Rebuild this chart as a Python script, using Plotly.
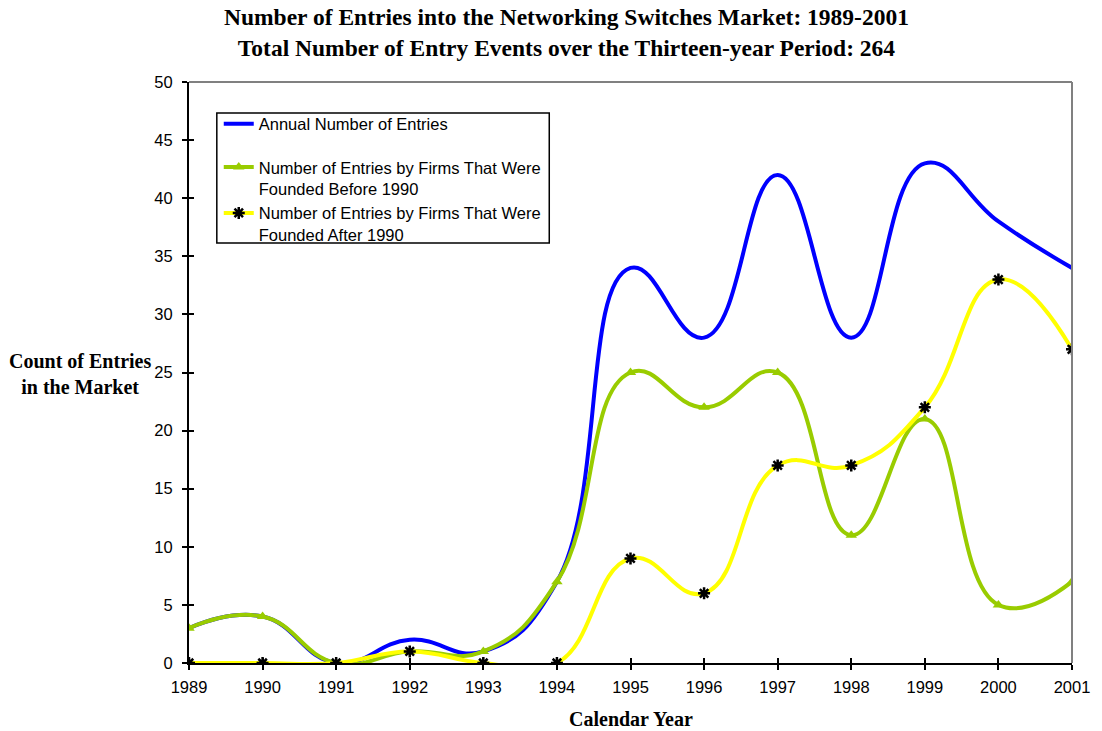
import plotly.graph_objects as go

years = [1989, 1990, 1991, 1992, 1993, 1994, 1995, 1996, 1997, 1998, 1999, 2000, 2001]
founded_before_1990 = [3, 4, 0, 1, 1, 7, 25, 22, 25, 11, 21, 5, 7]
founded_after_1990 = [0, 0, 0, 1, 0, 0, 9, 6, 17, 17, 22, 33, 27]
annual_entries = [3, 4, 0, 2, 1, 7, 34, 28, 42, 28, 43, 38, 34]

x_ticks = years
y_ticks = list(range(0, 51, 5))

BLUE = "#0000FF"
GREEN = "#99CC00"
YELLOW = "#FFFF00"
SMOOTH = 1.3

fig = go.Figure()

fig.add_trace(go.Scatter(
    x=years, y=annual_entries, name="Annual Number of Entries", legendgroup="total",
    mode="lines", line=dict(color=BLUE, width=4, shape="spline", smoothing=SMOOTH),
))
fig.add_trace(go.Scatter(
    x=years, y=founded_before_1990, legendgroup="split",
    name="Number of Entries by Firms That Were<br>Founded Before 1990",
    mode="lines+markers",
    line=dict(color=GREEN, width=4, shape="spline", smoothing=SMOOTH),
    marker=dict(symbol="triangle-up", size=10, color=GREEN),
))
fig.add_trace(go.Scatter(
    x=years, y=founded_after_1990, legendgroup="split",
    name="Number of Entries by Firms That Were<br>Founded After 1990",
    mode="lines+markers",
    line=dict(color=YELLOW, width=4, shape="spline", smoothing=SMOOTH),
    marker=dict(symbol="asterisk-open", size=10, color="black",
                line=dict(color="black", width=2.5)),
))

axis_font = dict(family="Liberation Sans, Arial, sans-serif", size=16.5, color="black")

fig.update_layout(
    width=1102, height=731,
    margin=dict(l=189, r=23, t=82, b=68),
    paper_bgcolor="white", plot_bgcolor="white",
    showlegend=True,
    legend=dict(
        x=0.0337, y=0.958, xanchor="left", yanchor="top", valign="top",
        borderwidth=0, bgcolor="rgba(0,0,0,0)", traceorder="grouped",
        font=dict(family="Liberation Sans, Arial, sans-serif", size=16.5, color="black"),
        tracegroupgap=19, itemwidth=30,
    ),
    xaxis=dict(
        range=[1989, 2001], tickvals=x_ticks, ticktext=[str(y) for y in x_ticks],
        showgrid=False, zeroline=False, showline=True, linecolor="black", linewidth=2,
        ticks="outside", ticklen=5, tickwidth=2, tickcolor="black",
        tickfont=axis_font, ticklabelstandoff=3, ticklabeloverflow="allow",
    ),
    yaxis=dict(
        range=[0, 50], tickvals=y_ticks,
        showgrid=False, zeroline=False, showline=True, linecolor="black", linewidth=2,
        ticks="outside", ticklen=5, tickwidth=2, tickcolor="black",
        tickfont=axis_font, ticklabelstandoff=6,
    ),
    # inner halves of the crossing tick marks
    xaxis2=dict(
        overlaying="x", matches="x", range=[1989, 2001], tickvals=x_ticks,
        showticklabels=False, showgrid=False, zeroline=False, showline=False,
        ticks="inside", ticklen=5, tickwidth=2, tickcolor="black", side="bottom",
    ),
    yaxis2=dict(
        overlaying="y", matches="y", range=[0, 50], tickvals=y_ticks,
        showticklabels=False, showgrid=False, zeroline=False, showline=False,
        ticks="inside", ticklen=5, tickwidth=2, tickcolor="black", side="left",
    ),
)

# invisible trace to anchor the secondary axes
fig.add_trace(go.Scatter(x=[years[0]], y=[0], xaxis="x2", yaxis="y2",
                         mode="markers", marker=dict(opacity=0), showlegend=False,
                         hoverinfo="skip"))

# gray frame on the top and right sides of the plot area
fig.add_shape(type="line", xref="paper", yref="paper", x0=0, x1=1, y0=1, y1=1,
              line=dict(color="#808080", width=2))
fig.add_shape(type="line", xref="paper", yref="paper", x0=1, x1=1, y0=0, y1=1,
              line=dict(color="#808080", width=2))

# legend frame
fig.add_shape(type="rect", xref="paper", yref="paper",
              x0=0.0315, x1=0.408, y0=0.7229, y1=0.9466,
              line=dict(color="black", width=1.5), fillcolor="white", layer="below")

title_font = dict(family="Liberation Serif, Times New Roman, serif", size=23.5, color="black")
fig.add_annotation(
    text="<b>Number of Entries into the Networking Switches Market: 1989-2001<br>"
         "Total Number of Entry Events over the Thirteen-year Period: 264</b>",
    xref="paper", yref="paper", x=0.428, y=1.0, yshift=80, yanchor="top",
    showarrow=False, font=title_font, align="center",
)

label_font = dict(family="Liberation Serif, Times New Roman, serif", size=20, color="black")
fig.add_annotation(
    text="<b>Count of Entries<br>in the Market</b>",
    xref="paper", yref="paper", x=0, xshift=-109, y=0.498, xanchor="center",
    showarrow=False, font=label_font, align="center",
)
fig.add_annotation(
    text="<b>Calendar Year</b>",
    xref="paper", yref="paper", x=0.5, y=0, yshift=-56, yanchor="middle",
    showarrow=False, font=label_font,
)

fig.write_html("out.html")
